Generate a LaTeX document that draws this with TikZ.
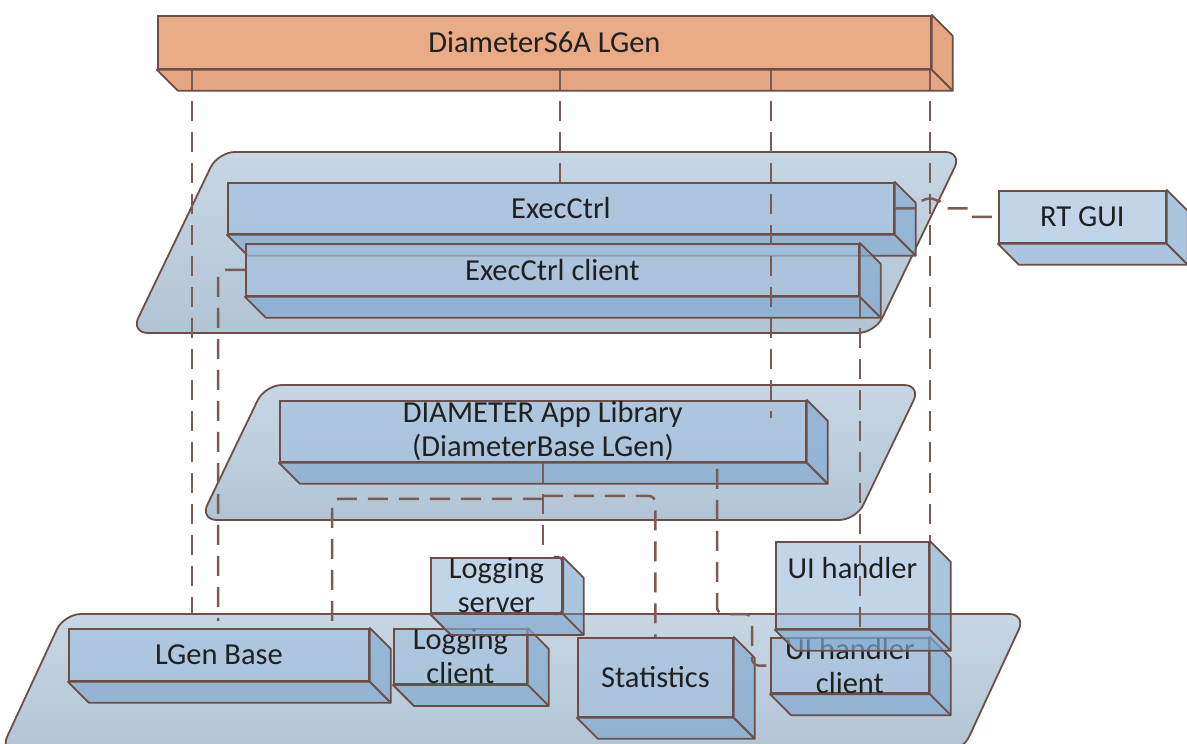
\documentclass[tikz,border=0pt]{standalone}
\usepackage{fontspec}
\setmainfont{Carlito}
\usetikzlibrary{calc}

\definecolor{edgebrown}{RGB}{108,78,70}
\definecolor{linkbrown}{RGB}{122,92,84}
\definecolor{boxfront}{RGB}{164,193,221}
\definecolor{boxside}{RGB}{128,170,207}
\definecolor{orfront}{RGB}{233,170,134}
\definecolor{orside}{RGB}{229,166,130}
\definecolor{layertop}{RGB}{200,214,227}
\definecolor{layerbot}{RGB}{178,196,212}
\definecolor{labelgray}{RGB}{32,32,32}

\newcommand\labelfont{\fontsize{30.5}{34}\selectfont}
\def\bxd{21}

\tikzset{
  bluefront/.style={draw=edgebrown, line width=1.8pt, fill=boxfront, fill opacity=0.67,
    text opacity=1, inner sep=0pt, align=center, text=labelgray, font=\labelfont},
  blueside/.style={draw=edgebrown, line width=1.8pt, fill=boxside, fill opacity=0.67, line join=round},
  orangefront/.style={draw=edgebrown, line width=1.8pt, fill=orfront, inner sep=0pt,
    align=center, text=labelgray, font=\labelfont},
  orangeside/.style={draw=edgebrown, line width=1.8pt, fill=orside, line join=round},
  link/.style={draw=linkbrown, line width=2.5pt, dash pattern=on 20pt off 11pt, rounded corners=7pt},
  layer/.style={draw=edgebrown, line width=1.8pt, rounded corners=17pt,
    top color=layertop, bottom color=layerbot},
}

% 3D block: front face as a named node, then the bottom and right faces
% #1 name, #2 left, #3 top, #4 width, #5 height, #6 colour set, #7 label
\newcommand\solidbox[7]{%
  \node[#6front, minimum width=#4pt, minimum height=#5pt, anchor=north west] (#1) at (#2,#3) {#7};
  \filldraw[#6side] (#1.south west) -- ++(\bxd,\bxd) -- ($(#1.south east)+(\bxd,\bxd)$)
    -- ($(#1.north east)+(\bxd,\bxd)$) -- (#1.north east) -- (#1.south east) -- cycle;
  \draw[#6side, fill=none] (#1.south east) -- ++(\bxd,\bxd);
}

\begin{document}
\begin{tikzpicture}[x=1pt, y=-1pt]
\useasboundingbox (0,0) rectangle (1187,744);
\clip (0,0) rectangle (1187,744);

% layers
\path[layer] (218,152) -- (962,152) -- (875,333) -- (131,333) -- cycle;
\path[layer] (265,385) -- (921,385) -- (856,520) -- (200,520) -- cycle;
\path[layer] (64,614) -- (1026,614) -- (962,752) -- (0,752) -- cycle;

% blocks
\solidbox{top}{157}{15}{773}{53}{orange}{DiameterS6A LGen}
\solidbox{execctrl}{227}{182}{666}{51}{blue}{ExecCtrl}
\solidbox{execclient}{245}{243}{613}{52}{blue}{ExecCtrl client}
\solidbox{rtgui}{998}{190}{167}{52}{blue}{RT GUI}
\solidbox{diamlib}{279}{400}{526}{61}{blue}{DIAMETER App Library\\(DiameterBase LGen)}
\solidbox{lgenbase}{68}{628}{300}{52}{blue}{LGen Base}
\solidbox{logclient}{393}{628}{133}{53}{blue}{Logging\\client}
\solidbox{statistics}{577}{637}{155}{79}{blue}{Statistics}
\solidbox{uiclient}{770}{637}{158}{53}{blue}{UI handler\\client}
\solidbox{logserver}{430}{557}{131}{53}{blue}{Logging\\server}
\solidbox{uihandler}{775}{541}{153}{87}{blue}{UI handler\\\mbox{}}

% rounded right edge of the logging server front
\draw[edgebrown, line width=2.4pt, rounded corners=5pt]
  ($(logserver.north east)+(-9,0)$) -- (logserver.north east) -- (logserver.south east) -- ++(-9,0);

% lower layer rim seen through the blocks standing on it
\coordinate (l3top) at (0,614);
\draw[edgebrown, line width=1.8pt, opacity=0.5] (420,614) -- (965,614);

% connector columns
\coordinate (xa) at (192,0);
\coordinate (xb) at (560,0);
\coordinate (xc) at (771,0);
\coordinate (xe) at (218,0);
\coordinate (xf) at (332,0);
\coordinate (xh) at (717,0);
\coordinate (xi) at (752,0);

% connectors
\draw[link] (top.south -| xa) -- (xa |- l3top);
\draw[link] (top.south -| xb) -- (execctrl.north -| xb);
\draw[link] (top.south -| xc) -- ($(diamlib.north -| xc)+(0,18)$);
\draw[link] (top.south -| uihandler.north east) -- (uihandler.north east);
\draw[link] (execclient.south east) -- (uiclient.north -| execclient.south east);
\draw[link] (execclient.west) -| ($(xe |- lgenbase.north)+(0,-7)$);
\draw[link] (diamlib.south) -- ($(logserver.north -| diamlib.south)+(0,-5)$);
\draw[link] ($(diamlib.south)+(0,36)$) -| (lgenbase.north -| xf);
\draw[link] ($(diamlib.south)+(0,33)$) -| (statistics.north);
\draw[link] ($(diamlib.south -| xh)+(0,6)$) |- (xi |- l3top) |- (uiclient.west);
\draw[link] (execctrl.east) -- ++(25,0) arc[start angle=180, end angle=360, radius=10]
  -- ++(23,0) to[out=0, in=180] ++(16,8.5) -- (rtgui.west);
\end{tikzpicture}
\end{document}
